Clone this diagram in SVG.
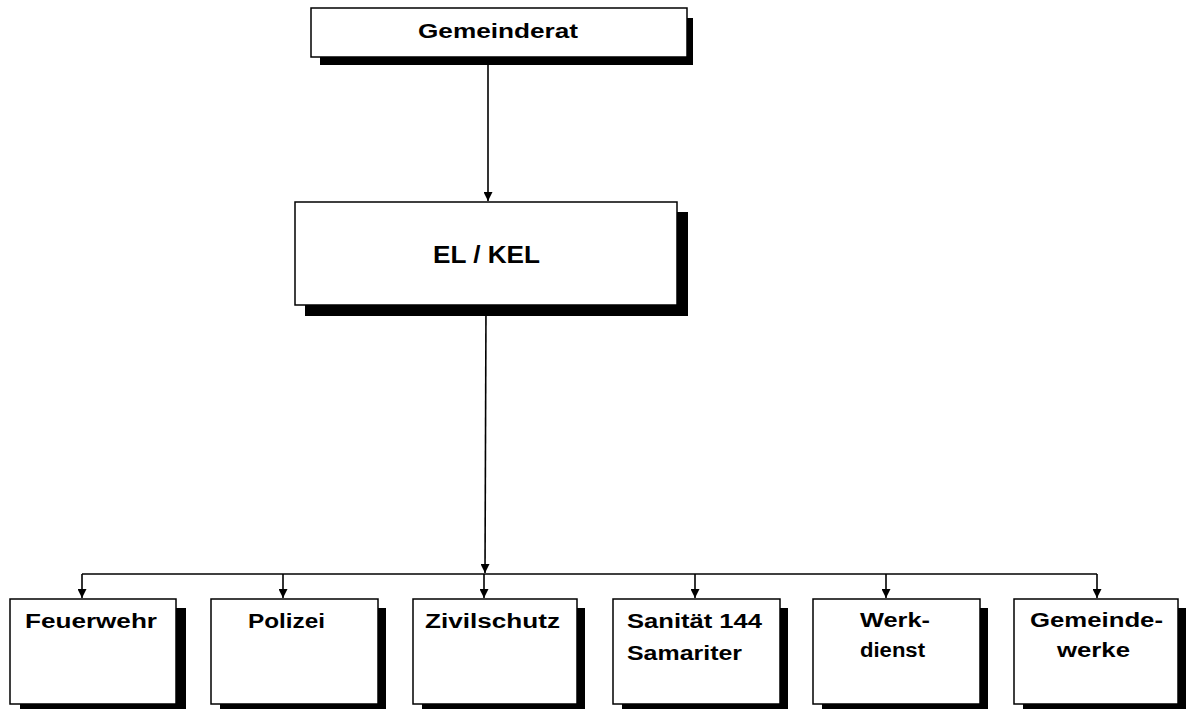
<svg xmlns="http://www.w3.org/2000/svg" width="1193" height="709" viewBox="0 0 1193 709">
<defs>
<marker id="ah" viewBox="0 0 10 10" refX="10" refY="5" markerWidth="9" markerHeight="9" markerUnits="userSpaceOnUse" orient="auto">
<path d="M0,0 L10,5 L0,10 Z" fill="#000"/>
</marker>
</defs>
<style>
.box{fill:#fff;stroke:#000;stroke-width:1.5}
.sh{fill:#000}
.t{font-family:"Liberation Sans",Arial,sans-serif;font-weight:bold;fill:#000;text-anchor:start}
.c{stroke:#000;stroke-width:1.6;fill:none}
</style>
<rect width="1193" height="709" fill="#fff"/>
<g id="connectors">
<line class="c" x1="488" y1="57" x2="488" y2="201" marker-end="url(#ah)"/>
<line class="c" x1="486" y1="305" x2="485" y2="573" stroke-width="2.6" marker-end="url(#ah)"/>
<line class="c" x1="82" y1="574" x2="1097" y2="574"/>
<line class="c" x1="82" y1="574" x2="82" y2="598" marker-end="url(#ah)"/>
<line class="c" x1="283" y1="574" x2="283" y2="598" marker-end="url(#ah)"/>
<line class="c" x1="484" y1="574" x2="484" y2="598" marker-end="url(#ah)"/>
<line class="c" x1="695" y1="574" x2="695" y2="598" stroke-width="2.4" marker-end="url(#ah)"/>
<line class="c" x1="886" y1="574" x2="886" y2="598" marker-end="url(#ah)"/>
<line class="c" x1="1097" y1="574" x2="1097" y2="598" marker-end="url(#ah)"/>
</g>
<g id="gemeinderat">
<rect class="sh" x="320" y="18" width="373" height="47"/>
<rect class="box" x="311" y="8" width="376" height="49"/>
<text class="t" x="418" y="38" font-size="20" textLength="160" lengthAdjust="spacingAndGlyphs">Gemeinderat</text>
</g>
<g id="elkel">
<rect class="sh" x="305" y="212" width="383" height="104"/>
<rect class="box" x="295" y="202" width="382" height="103"/>
<text class="t" x="433" y="263" font-size="23" textLength="107" lengthAdjust="spacingAndGlyphs">EL / KEL</text>
</g>
<g id="feuerwehr">
<rect class="sh" x="20" y="608" width="166" height="101"/>
<rect class="box" x="10" y="599" width="166" height="105"/>
<text class="t" x="25" y="628" font-size="20" textLength="132" lengthAdjust="spacingAndGlyphs">Feuerwehr</text>
</g>
<g id="polizei">
<rect class="sh" x="220" y="608" width="166" height="101"/>
<rect class="box" x="211" y="599" width="167" height="105"/>
<text class="t" x="248" y="628" font-size="20" textLength="77" lengthAdjust="spacingAndGlyphs">Polizei</text>
</g>
<g id="zivilschutz">
<rect class="sh" x="422" y="608" width="163" height="101"/>
<rect class="box" x="413" y="599" width="164" height="105"/>
<text class="t" x="425" y="628" font-size="20" textLength="135" lengthAdjust="spacingAndGlyphs">Zivilschutz</text>
</g>
<g id="sanitaet">
<rect class="sh" x="622" y="608" width="166" height="101"/>
<rect class="box" x="613" y="599" width="167" height="105"/>
<text class="t" x="627" y="628" font-size="20" textLength="135" lengthAdjust="spacingAndGlyphs">Sanität 144</text>
<text class="t" x="627" y="660" font-size="20" textLength="115" lengthAdjust="spacingAndGlyphs">Samariter</text>
</g>
<g id="werkdienst">
<rect class="sh" x="822" y="608" width="166" height="101"/>
<rect class="box" x="813" y="599" width="167" height="105"/>
<text class="t" x="860" y="627" font-size="20" textLength="70" lengthAdjust="spacingAndGlyphs">Werk-</text>
<text class="t" x="860" y="657" font-size="20" textLength="65" lengthAdjust="spacingAndGlyphs">dienst</text>
</g>
<g id="gemeindewerke">
<rect class="sh" x="1023" y="608" width="163" height="101"/>
<rect class="box" x="1014" y="599" width="164" height="105"/>
<text class="t" x="1030" y="627" font-size="20" textLength="133" lengthAdjust="spacingAndGlyphs">Gemeinde-</text>
<text class="t" x="1057" y="657" font-size="20" textLength="73" lengthAdjust="spacingAndGlyphs">werke</text>
</g>
</svg>
